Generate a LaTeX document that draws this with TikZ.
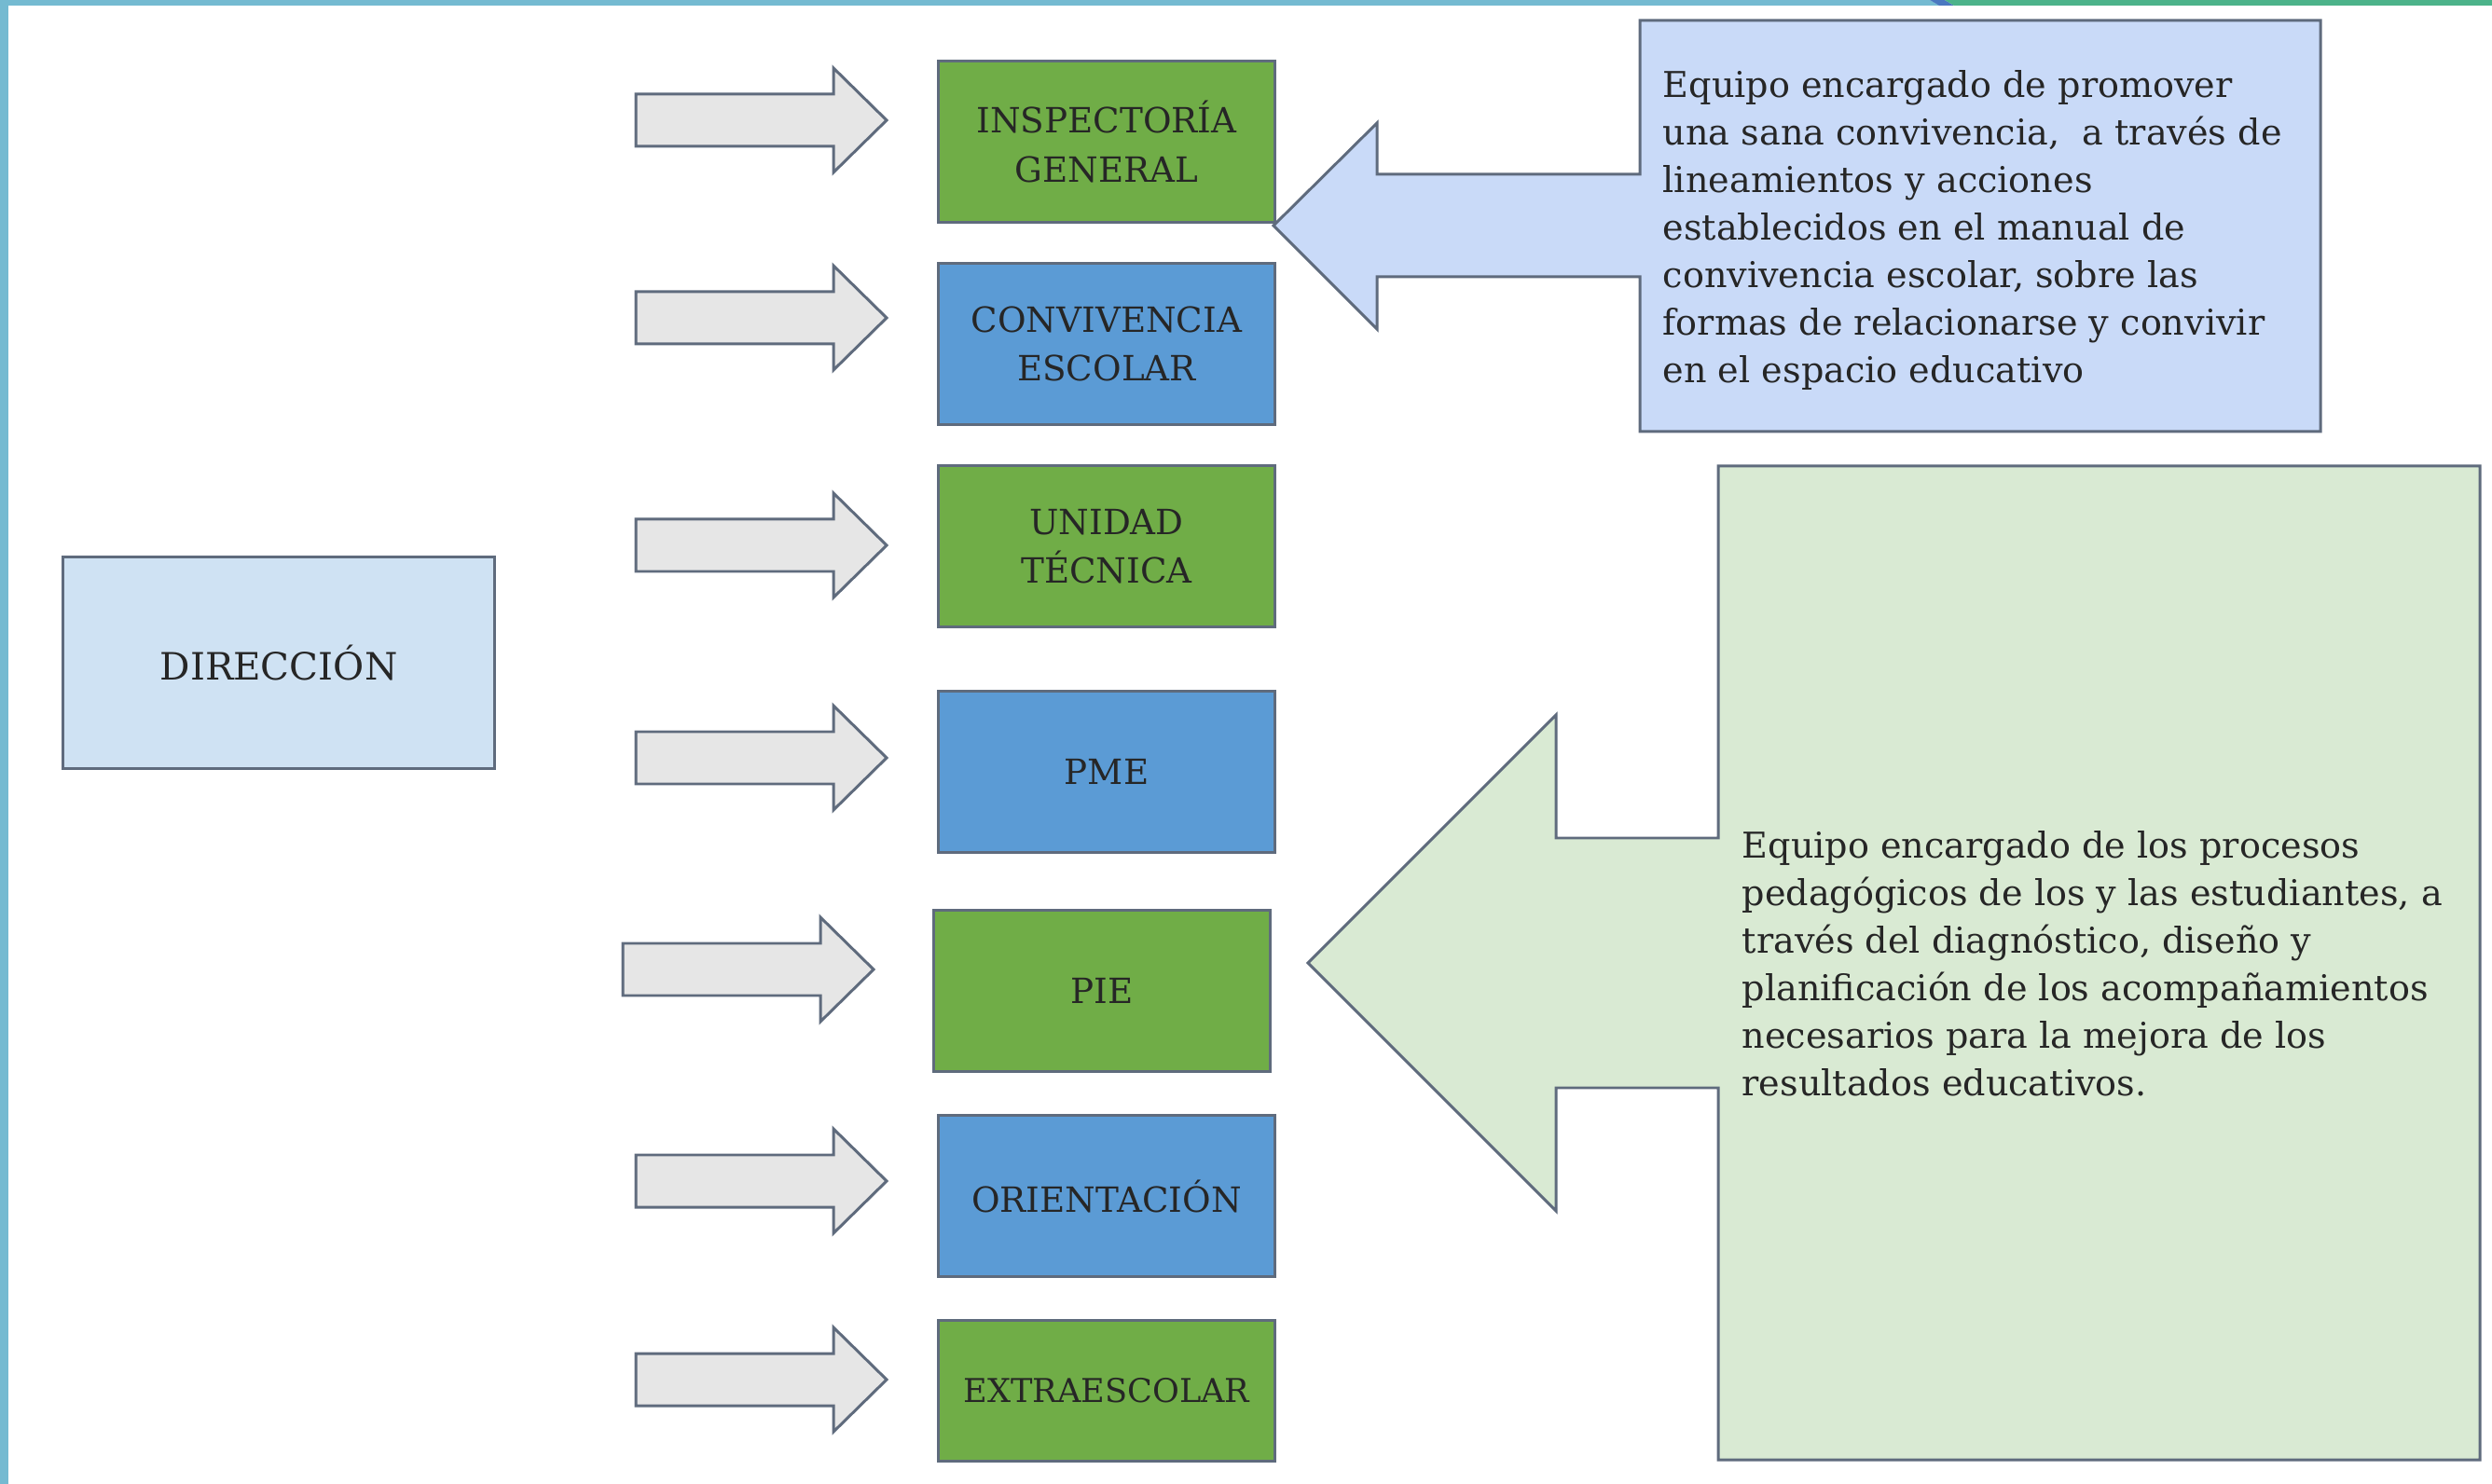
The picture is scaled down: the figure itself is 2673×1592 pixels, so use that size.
\documentclass[tikz,border=0pt]{standalone}
\usepackage{fontspec}
\setmainfont{DejaVu Serif}
\definecolor{gbox}{HTML}{70AD47}
\definecolor{bbox}{HTML}{5B9BD5}
\definecolor{dirfill}{HTML}{CFE2F3}
\definecolor{callb}{HTML}{C9DAF8}
\definecolor{callg}{HTML}{D9EAD3}
\definecolor{arrfill}{HTML}{E6E6E6}
\definecolor{edge}{HTML}{5F6B7D}
\definecolor{tealstrip}{HTML}{74BAD1}
\definecolor{stripgreen}{HTML}{4CB38A}
\definecolor{stripblue}{HTML}{4A78C0}
\definecolor{ink}{HTML}{262626}
\begin{document}
\begin{tikzpicture}[x=0.01cm,y=-0.01cm,
  unitbox/.style={rectangle,draw=edge,line width=0.85pt,minimum width=3.6cm,
    minimum height=1.72cm,align=center,text=ink,inner sep=0pt,
    font=\fontsize{10.6}{14.8}\selectfont},
  greenbox/.style={unitbox,fill=gbox},
  bluebox/.style={unitbox,fill=bbox},
  callshape/.style={draw=edge,line width=0.85pt,line join=miter},
  calltext/.style={anchor=west,align=left,text=ink,inner sep=0pt,
    font=\fontsize{10.85}{14.5}\selectfont},
  blkarr/.pic={\draw[fill=arrfill,draw=edge,line width=0.85pt]
    (0,-28) -- (212,-28) -- (212,-56) -- (269,0) -- (212,56) -- (212,28) -- (0,28) -- cycle;}
]
\useasboundingbox (0,0) rectangle (2673,1592);
\fill[white] (0,0) rectangle (2673,1592);
% frame strips
\fill[tealstrip] (0,0) rectangle (9,1592);
\fill[tealstrip] (0,0) -- (2070,0) -- (2080,6) -- (0,6) -- cycle;
\fill[stripblue] (2070,0) -- (2086,0) -- (2096,6) -- (2080,6) -- cycle;
\fill[stripgreen] (2086,0) -- (2673,0) -- (2673,6) -- (2096,6) -- cycle;

% direction
\node[unitbox,fill=dirfill,minimum width=4.62cm,minimum height=2.27cm,
  font=\fontsize{11.5}{14.8}\selectfont] (dir) at (299,711) {DIRECCIÓN};

% unit boxes
\node[greenbox,minimum height=1.73cm] (insp) at (1187,152) {INSPECTORÍA\\GENERAL};
\node[bluebox] (conv) at (1187,369) {CONVIVENCIA\\ESCOLAR};
\node[greenbox] (utp) at (1187,586) {UNIDAD\\TÉCNICA};
\node[bluebox] (pme) at (1187,828) {PME};
\node[greenbox] (pie) at (1182,1063) {PIE};
\node[bluebox,minimum height=1.73cm] (ori) at (1187,1283) {ORIENTACIÓN};
\node[greenbox,minimum height=1.51cm,font=\fontsize{10}{13}\selectfont] (extra) at (1187,1492) {EXTRAESCOLAR};

% block arrows
\pic (a1) at (682,129) {blkarr};
\pic (a2) at (682,341) {blkarr};
\pic (a3) at (682,585) {blkarr};
\pic (a4) at (682,813) {blkarr};
\pic (a5) at (668,1040) {blkarr};
\pic (a6) at (682,1267) {blkarr};
\pic (a7) at (682,1480) {blkarr};

% blue callout
\coordinate (tipb) at (1366,242);
\draw[callshape,fill=callb] (1759,22) -- (2489,22) -- (2489,463) -- (1759,463) -- (1759,297)
  -- (1477,297) -- (1477,353) -- (tipb) -- (1477,132) -- (1477,187) -- (1759,187) -- cycle;
\node[calltext] (tb) at (1783,247) {Equipo encargado de promover\\
una sana convivencia,\ \ a través de\\
lineamientos y acciones\\
establecidos en el manual de\\
convivencia escolar, sobre las\\
formas de relacionarse y convivir\\
en el espacio educativo};

% green callout
\coordinate (tipg) at (1403,1033);
\draw[callshape,fill=callg] (1843,500) -- (2660,500) -- (2660,1566) -- (1843,1566) -- (1843,1167)
  -- (1669,1167) -- (1669,1299) -- (tipg) -- (1669,767) -- (1669,899) -- (1843,899) -- cycle;
\node[calltext] (tg) at (1868,1034) {Equipo encargado de los procesos\\
pedagógicos de los y las estudiantes, a\\
través del diagnóstico, diseño y\\
planificación de los acompañamientos\\
necesarios para la mejora de los\\
resultados educativos.};
\end{tikzpicture}
\end{document}
